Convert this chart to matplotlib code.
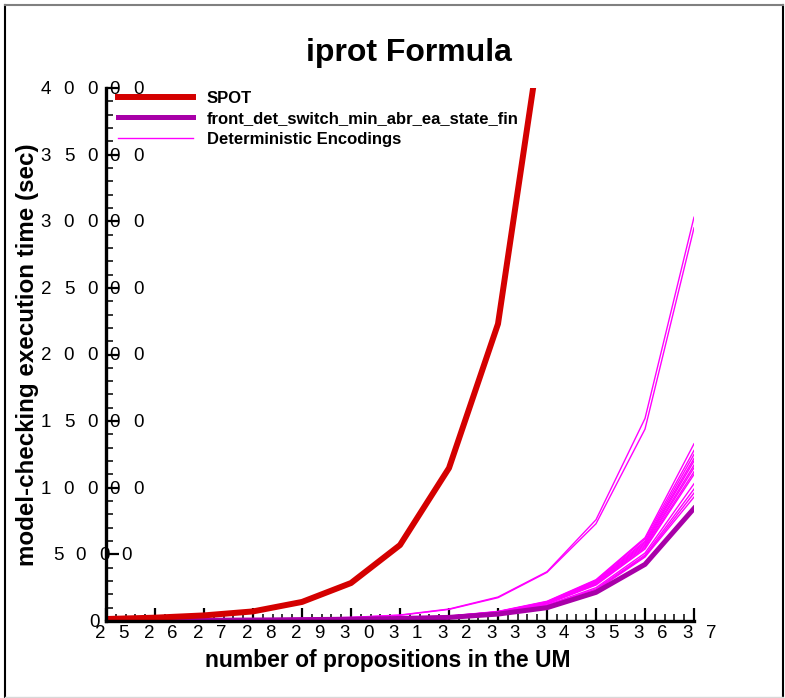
import numpy as np
import matplotlib
matplotlib.use("Agg")
import matplotlib.pyplot as plt
from matplotlib.lines import Line2D
from matplotlib.ticker import MultipleLocator

plt.rcParams["font.family"] = ["Liberation Sans", "DejaVu Sans"]

# number of propositions in the UM
props = np.arange(25, 38)
spot_x = np.arange(25, 35)
# execution times (sec)
spot = [150, 250, 420, 720, 1430, 2850, 5700, 11480, 22300, 47000]
front_det = [30, 40, 54, 73, 100, 135, 190, 270, 520, 1000, 2150, 4250, 8450]
det_enc = [
    [60, 80, 110, 150, 200, 270, 450, 900, 1800, 3700, 7600, 15200, 30300],
    [55, 75, 100, 140, 190, 260, 430, 870, 1750, 3650, 7300, 14400, 29500],
    [40, 55, 75, 100, 140, 190, 260, 370, 720, 1480, 3100, 6250, 13300],
    [40, 55, 70, 95, 130, 180, 250, 360, 700, 1450, 3050, 6150, 12800],
    [38, 52, 70, 95, 130, 175, 245, 350, 690, 1420, 3000, 6000, 12500],
    [38, 50, 68, 92, 125, 170, 240, 345, 680, 1400, 2950, 5900, 12200],
    [36, 50, 66, 90, 122, 168, 235, 340, 660, 1380, 2900, 5800, 12000],
    [36, 48, 65, 88, 120, 165, 230, 330, 650, 1350, 2850, 5700, 11700],
    [35, 47, 64, 86, 118, 160, 225, 320, 640, 1320, 2800, 5600, 11500],
    [34, 46, 62, 84, 115, 158, 220, 315, 620, 1300, 2750, 5500, 11200],
    [34, 45, 60, 82, 112, 155, 215, 310, 610, 1280, 2700, 5400, 11000],
    [33, 44, 58, 80, 110, 150, 210, 300, 590, 1200, 2500, 5100, 10300],
    [32, 43, 57, 78, 106, 145, 205, 290, 570, 1150, 2400, 4950, 9900],
    [32, 42, 56, 76, 104, 142, 200, 285, 560, 1120, 2350, 4850, 9600],
    [31, 41, 55, 75, 102, 140, 195, 280, 550, 1100, 2300, 4800, 9300],
]
x_ticks = list(range(25, 38))
y_ticks = list(range(0, 40001, 5000))
labels = ["SPOT", "front_det_switch_min_abr_ea_state_fin", "Deterministic Encodings"]

W, H = 785, 698
fig = plt.figure(figsize=(W / 100, H / 100), dpi=100)
ax = fig.add_axes([106 / W, 1 - 621 / H, 588 / W, 533 / H])

for row in det_enc:
    ax.plot(props, row, color="#ff00ff", lw=1.0)
ax.plot(props, front_det, color="#a800a8", lw=3.6)
ax.plot(spot_x, spot, color="#d40000", lw=4.3)

ax.set_xlim(25, 37)
ax.set_ylim(0, 40000)
ax.set_xticks(x_ticks)
ax.set_yticks(y_ticks)
ax.set_xticklabels([])
ax.set_yticklabels([])
ax.xaxis.set_minor_locator(MultipleLocator(0.2))
ax.yaxis.set_minor_locator(MultipleLocator(1000))
ax.tick_params(which="major", direction="in", length=9.5, width=1.6, color="black")
ax.tick_params(which="minor", direction="in", length=5, width=1.1, color="black")
for s in ["top", "right"]:
    ax.spines[s].set_visible(False)
for s in ["left", "bottom"]:
    ax.spines[s].set_linewidth(2.4)

# letter-spaced tick labels (digits spread out like the original)
PX = 0.72
for v in y_ticks:
    s = str(v)
    n = len(s)
    for i, ch in enumerate(s):
        ax.annotate(ch, xy=(0, v), xycoords=("axes fraction", "data"),
                    xytext=((-12 * n + 23 * i) * PX, -1.5 * PX), textcoords="offset points",
                    ha="center", va="center", fontsize=13.5, annotation_clip=False)
for v in x_ticks:
    s = str(v)
    for i, ch in enumerate(s):
        ax.annotate(ch, xy=(v, 0), xycoords=("data", "axes fraction"),
                    xytext=((-6 + 23 * i) * PX, -12 * PX), textcoords="offset points",
                    ha="center", va="center", fontsize=13.5, annotation_clip=False)

handles = [Line2D([], [], color="#d40000", lw=4.3),
           Line2D([], [], color="#a800a8", lw=3.6),
           Line2D([], [], color="#ff00ff", lw=1.0)]
ax.legend(handles, labels, loc="upper left", bbox_to_anchor=(0.0204, 0.995),
          frameon=False, borderpad=0, borderaxespad=0, handlelength=4.5,
          handletextpad=0.84, labelspacing=0.34,
          prop={"weight": "bold", "size": 12})

fig.text(409 / W, 1 - 53 / H, "iprot Formula", ha="center", va="center",
         fontsize=23, weight="bold")
fig.text(388 / W, 1 - 660 / H, "number of propositions in the UM", ha="center",
         va="center", fontsize=16.5, weight="bold")
fig.text(28 / W, 1 - 355 / H, "model-checking execution time (sec)", ha="center",
         va="center", rotation=90, fontsize=17.4, weight="bold")

# outer frame
fig.add_artist(Line2D([5 / W, 5 / W], [1 - 5 / H, 1 - 697 / H], color="black", lw=1.5))
fig.add_artist(Line2D([783 / W, 783 / W], [1 - 5 / H, 1 - 697 / H], color="black", lw=1.5))
fig.add_artist(Line2D([5 / W, 783 / W], [1 - 5 / H, 1 - 5 / H], color="#808080", lw=1.5))
fig.add_artist(Line2D([5 / W, 783 / W], [1 - 697 / H, 1 - 697 / H], color="#d8d8d8", lw=1.0))

fig.savefig("out.png", dpi=100)
